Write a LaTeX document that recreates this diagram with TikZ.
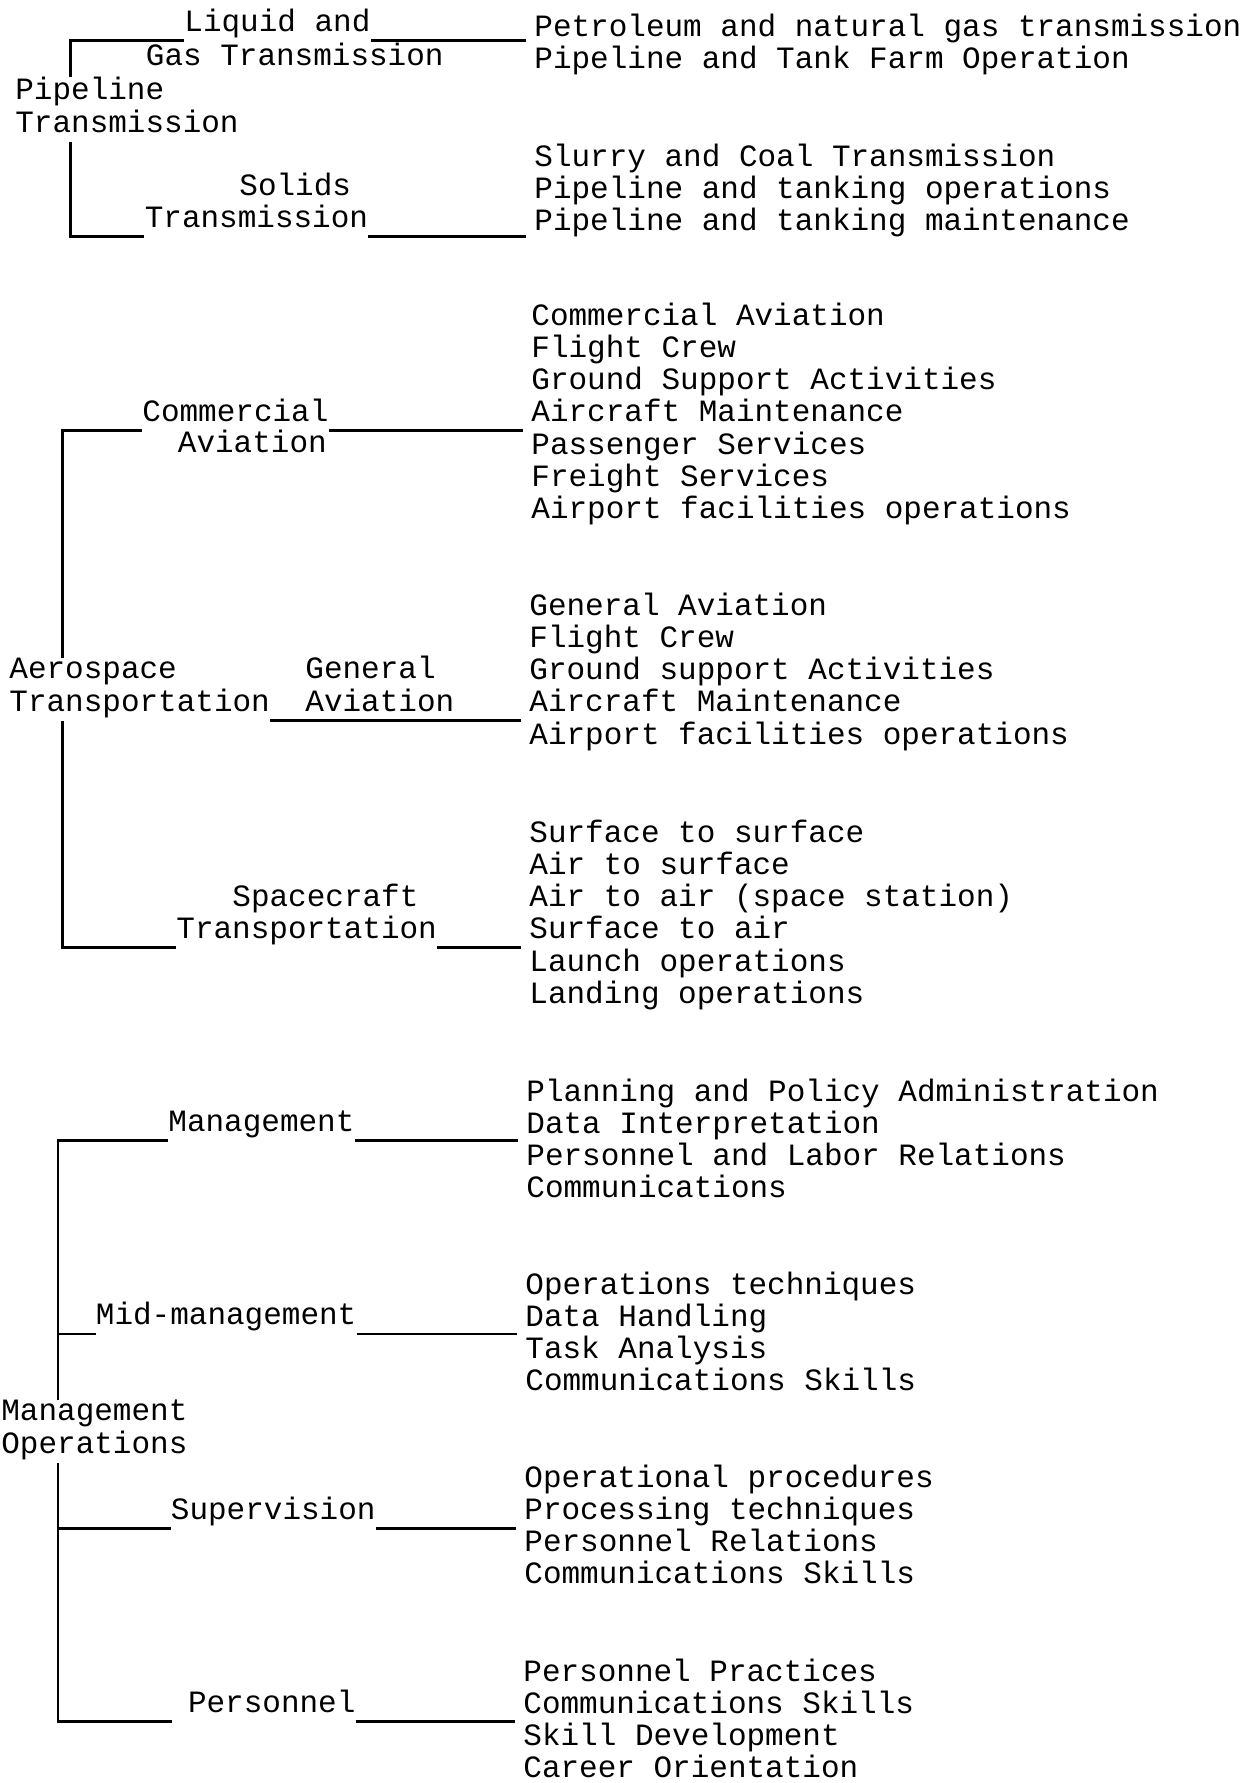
\documentclass[tikz,border=0pt]{standalone}
\usepackage{fontspec}
\newfontfamily\typed{Liberation Mono}
\usetikzlibrary{calc}

\tikzset{
  txt/.style={anchor=base west, font=\fontsize{15.5pt}{16.15pt}\selectfont\typed},
  lab/.style={txt, inner xsep=0pt, inner ysep=4.5pt, text depth=0pt},
  root/.style={txt, align=left, inner sep=0pt},
  list/.style={txt, align=left, inner sep=0pt},
  link/.style={line width=1.1pt},
  tolist/.style={link, shorten >=4pt}
}

\begin{document}
\begin{tikzpicture}[x=0.5pt,y=-0.5pt]
\useasboundingbox (0,0) rectangle (1246,1783);

\node[root] (pipe) at (15,132) {Pipeline\\Transmission\strut};
\node[lab] (liquid) at (184,31) {Liquid and};
\node[lab] (liquid2) at (145.5,65) {Gas Transmission};
\node[lab] (solids) at (239,195) {Solids};
\node[lab] (solids2) at (144.4,227) {Transmission};
\node[list] (petro) at (534,68.3) {Petroleum and natural gas transmission\\Pipeline and Tank Farm Operation};
\node[list] (slurry) at (534,230.6) {Slurry and Coal Transmission\\Pipeline and tanking operations\\Pipeline and tanking maintenance};
\coordinate (pipespine) at (70.5,0);
\draw[link] (pipe.north -| pipespine) |- (liquid.south west);
\draw[tolist] (liquid.south east) -- (liquid.south east -| petro.west);
\draw[link] (pipe.south -| pipespine) |- (solids2.south west);
\draw[tolist] (solids2.south east) -- (solids2.south east -| slurry.west);

\node[root] (aero) at (9,711) {Aerospace\\Transportation\strut};
\node[lab] (comm) at (142,421) {Commercial};
\node[lab] (comm2) at (177.5,452.5) {Aviation};
\node[lab] (gen) at (305,678) {General};
\node[lab] (gen2) at (305,711) {Aviation};
\node[lab] (space) at (232,906) {Spacecraft};
\node[lab] (space2) at (176,938) {Transportation};
\node[list] (commlist) at (531,518.8) {Commercial Aviation\\Flight Crew\\Ground Support Activities\\Aircraft Maintenance\\Passenger Services\\Freight Services\\Airport facilities operations};
\node[list] (genlist) at (529,744.2) {General Aviation\\Flight Crew\\Ground support Activities\\Aircraft Maintenance\\Airport facilities operations};
\node[list] (spacelist) at (529,1003.5) {Surface to surface\\Air to surface\\Air to air (space station)\\Surface to air\\Launch operations\\Landing operations};
\coordinate (aerospine) at (62.5,0);
\draw[link] (aero.north -| aerospine) |- (comm.south west);
\draw[tolist] (comm.south east) -- (comm.south east -| commlist.west);
\draw[tolist] (gen2.south west -| aero.east) -- (gen2.south west -| genlist.west);
\draw[link] (aero.south -| aerospine) |- (space2.south west);
\draw[tolist] (space2.south east) -- (space2.south east -| spacelist.west);

\node[root] (ops) at (1,1453) {Management\\Operations\strut};
\node[lab] (mgmt) at (168,1131) {Management};
\node[lab] (mid) at (95.5,1324.5) {Mid-management};
\node[lab] (sup) at (170.5,1519) {Supervision};
\node[lab] (pers) at (187.6,1712) {Personnel};
\node[list] (mgmtlist) at (526,1197.9) {Planning and Policy Administration\\Data Interpretation\\Personnel and Labor Relations\\Communications};
\node[list] (midlist) at (525,1390.9) {Operations techniques\\Data Handling\\Task Analysis\\Communications Skills};
\node[list] (suplist) at (524,1583.9) {Operational procedures\\Processing techniques\\Personnel Relations\\Communications Skills};
\node[list] (perslist) at (523,1777.9) {Personnel Practices\\Communications Skills\\Skill Development\\Career Orientation};
\coordinate (mgmtspine) at (58,0);
\draw[link] (ops.north -| mgmtspine) |- (mgmt.south west);
\draw[tolist] (mgmt.south east) -- (mgmt.south east -| mgmtlist.west);
\draw[link] (mid.south west -| mgmtspine) -- (mid.south west);
\draw[tolist] (mid.south east) -- (mid.south east -| midlist.west);
\draw[link] (ops.south -| mgmtspine) |- ([xshift=-8pt]pers.south west);
\draw[link] (sup.south west -| mgmtspine) -- (sup.south west);
\draw[tolist] (sup.south east) -- (sup.south east -| suplist.west);
\draw[tolist] (pers.south east) -- (pers.south east -| perslist.west);
\end{tikzpicture}
\end{document}
